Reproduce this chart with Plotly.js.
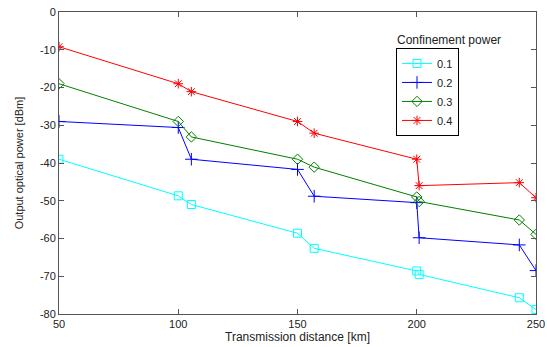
<!DOCTYPE html>
<html>
<head>
<meta charset="utf-8">
<script src="https://cdn.plot.ly/plotly-3.0.1.min.js"></script>
<style>html,body{margin:0;padding:0;background:#fff;}#chart{width:547px;height:347px;}</style>
</head>
<body>
<div id="chart"></div>
<script>
// Transmission distance [km]
const distance = [50, 100, 105.5, 150, 157, 200, 201, 243, 250];
// Output optical power [dBm] for each confinement power
const p01 = [-39, -48.7, -51, -58.6, -62.6, -68.6, -69.5, -75.7, -78.8];
const p02 = [-29, -30.6, -39, -41.7, -48.8, -50.5, -59.8, -61.7, -68.5];
const p03 = [-19, -29, -33.1, -39, -41.1, -49, -50.2, -55.1, -58.9];
const p04 = [-9.2, -19, -21.1, -29, -32.1, -39, -46, -45.2, -49.2];
const seriesNames = ['0.1', '0.2', '0.3', '0.4'];
const legendTitle = 'Confinement power';
const xTicks = [50, 100, 150, 200, 250];
const yTicks = [0, -10, -20, -30, -40, -50, -60, -70, -80];

const font = 'Liberation Sans, Arial, sans-serif';
const styles = [
  {color: '#00FFFF', symbol: 'square-open', size: 8},
  {color: '#0000FF', symbol: 'cross-thin-open', size: 9},
  {color: '#008000', symbol: 'diamond-open', size: 8},
  {color: '#FF0000', symbol: 'asterisk-open', size: 8}
];
const values = [p01, p02, p03, p04];
const traces = values.map((v, i) => ({
  x: distance, y: v, name: seriesNames[i], type: 'scatter', mode: 'lines+markers',
  line: {color: styles[i].color, width: 1},
  marker: {symbol: styles[i].symbol, size: styles[i].size, color: styles[i].color,
           line: {color: styles[i].color, width: 1}}
}));

const axisCommon = {
  showgrid: false, zeroline: false, showline: true, mirror: 'ticks',
  linecolor: '#555', linewidth: 1, ticks: 'inside', ticklen: 5, tickcolor: '#555',
  tickfont: {family: font, size: 11, color: '#222'}
};

const layout = {
  width: 547, height: 347,
  margin: {l: 59, r: 11, t: 12, b: 33},
  paper_bgcolor: '#fff', plot_bgcolor: '#fff',
  showlegend: true,
  xaxis: Object.assign({}, axisCommon, {
    range: [50, 250], tickvals: xTicks, ticktext: xTicks.map(String),
    title: {text: 'Transmission distance [km]', font: {family: font, size: 12, color: '#222'}, standoff: 2}
  }),
  yaxis: Object.assign({}, axisCommon, {
    range: [-80, 0], tickvals: yTicks, ticktext: yTicks.map(String),
    title: {text: 'Output optical power [dBm]', font: {family: font, size: 11, color: '#222'}, standoff: 14}
  }),
  legend: {
    x: 0.7065, y: 0.881, xanchor: 'left', yanchor: 'top',
    bgcolor: '#fff', bordercolor: '#000', borderwidth: 1,
    font: {family: font, size: 11, color: '#222'}
  },
  annotations: [{
    text: legendTitle, xref: 'paper', yref: 'paper', x: 0.818, y: 0.907, xanchor: 'center', yanchor: 'middle',
    showarrow: false, font: {family: font, size: 12, color: '#222'}
  }]
};

Plotly.newPlot('chart', traces, layout, {displayModeBar: false, staticPlot: true});
</script>
</body>
</html>
